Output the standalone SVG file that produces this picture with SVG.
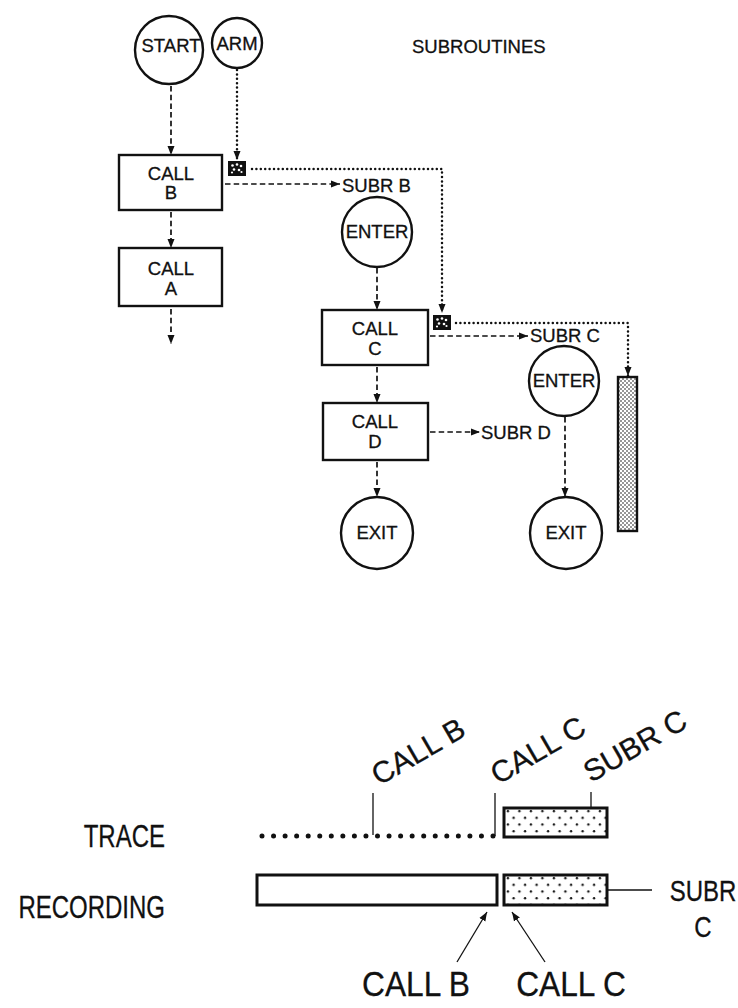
<svg xmlns="http://www.w3.org/2000/svg" width="738" height="1008" viewBox="0 0 738 1008">
<style>
text{font-family:"Liberation Sans",Arial,sans-serif;fill:#111;stroke:#111;stroke-width:0.3}
.t{font-size:18.5px;text-anchor:middle}
.tl{font-size:18.5px}
.node{fill:#fff;stroke:#111;stroke-width:2.4}
.dash{fill:none;stroke:#111;stroke-width:1.7;stroke-dasharray:5.5 3.2}
.dot{fill:none;stroke:#111;stroke-width:2.5;stroke-linecap:round;stroke-dasharray:0 4.4}
.big{font-size:30px}
.cond{font-size:32px}
.sub{font-size:30px}
.bot{font-size:36px}
.thin{stroke:#111;stroke-width:1.3;fill:none}
</style>
<defs>
<marker id="ah" markerWidth="10" markerHeight="8" refX="9" refY="4" orient="auto" markerUnits="userSpaceOnUse">
<path d="M0,0.5 L9,4 L0,7.5 Z" fill="#111"/>
</marker>
<pattern id="fine" width="4" height="4" patternUnits="userSpaceOnUse">
<rect width="4" height="4" fill="#fff"/>
<circle cx="1" cy="1" r="0.8" fill="#111"/>
<circle cx="3" cy="3" r="0.8" fill="#111"/>
</pattern>
<pattern id="sparse" width="11.5" height="13.4" patternUnits="userSpaceOnUse" x="505" y="808">
<rect width="11.5" height="13.4" fill="#fff"/>
<circle cx="2.9" cy="3" r="1.2" fill="#111"/>
<circle cx="8.6" cy="9.7" r="1.2" fill="#111"/>
</pattern>
<g id="chk">
<rect x="0.5" y="0.5" width="17" height="14" fill="#111" stroke="#111" stroke-width="1"/>
<circle cx="4.5" cy="4.5" r="1.3" fill="#fff"/>
<circle cx="9" cy="3.5" r="1.3" fill="#fff"/>
<circle cx="13" cy="5" r="1.3" fill="#fff"/>
<circle cx="6" cy="8.5" r="1.3" fill="#fff"/>
<circle cx="11" cy="9" r="1.3" fill="#fff"/>
<circle cx="4" cy="11.5" r="1.1" fill="#fff"/>
<circle cx="13.5" cy="11" r="1.1" fill="#fff"/>
</g>
</defs>
<rect width="738" height="1008" fill="#fff"/>

<g id="start"><circle class="node" cx="169" cy="50" r="34"/><text class="t" x="171" y="52">START</text></g>
<g id="arm"><circle class="node" cx="237" cy="43" r="25"/><text class="t" x="237" y="50">ARM</text></g>
<g id="subroutines"><text class="tl" x="412" y="53">SUBROUTINES</text></g>

<g id="callB"><rect class="node" x="119" y="155" width="103" height="55"/><text class="t" x="171" y="180">CALL</text><text class="t" x="171" y="199">B</text></g>
<g id="callA"><rect class="node" x="119" y="248" width="103" height="58"/><text class="t" x="171" y="275">CALL</text><text class="t" x="171" y="295">A</text></g>
<g id="sq1"><use href="#chk" x="228" y="161"/></g>
<g id="subrB"><text class="tl" x="342" y="192">SUBR B</text></g>
<g id="enterB"><circle class="node" cx="377" cy="232" r="35"/><text class="t" x="377" y="238">ENTER</text></g>
<g id="callC"><rect class="node" x="322" y="310" width="106" height="55"/><text class="t" x="375" y="335">CALL</text><text class="t" x="375" y="355">C</text></g>
<g id="sq2"><use href="#chk" x="433" y="315"/></g>
<g id="subrC"><text class="tl" x="530" y="342">SUBR C</text></g>
<g id="callD"><rect class="node" x="323" y="403" width="105" height="57"/><text class="t" x="375" y="428">CALL</text><text class="t" x="375" y="448">D</text></g>
<g id="subrD"><text class="tl" x="481" y="439">SUBR D</text></g>
<g id="exitB"><circle class="node" cx="377" cy="533" r="36"/><text class="t" x="377" y="539">EXIT</text></g>
<g id="enterC"><circle class="node" cx="564" cy="381" r="35"/><text class="t" x="564" y="387">ENTER</text></g>
<g id="exitC"><circle class="node" cx="566" cy="533" r="36"/><text class="t" x="566" y="539">EXIT</text></g>
<g id="bar"><rect x="618" y="377" width="19" height="154" fill="url(#fine)" stroke="#111" stroke-width="2.4"/></g>

<g id="connectors">
<line class="dash" x1="171" y1="86" x2="171" y2="155" marker-end="url(#ah)"/>
<line class="dot" x1="237" y1="70" x2="237" y2="160" marker-end="url(#ah)"/>
<line class="dash" x1="171" y1="212" x2="171" y2="248" marker-end="url(#ah)"/>
<line class="dash" x1="171" y1="309" x2="171" y2="344" marker-end="url(#ah)"/>
<line class="dash" x1="225" y1="184" x2="340" y2="184" marker-end="url(#ah)"/>
<polyline class="dot" points="252,169 442,169 442,313" marker-end="url(#ah)"/>
<line class="dash" x1="377" y1="268" x2="377" y2="310" marker-end="url(#ah)"/>
<line class="dash" x1="430" y1="336" x2="528" y2="336" marker-end="url(#ah)"/>
<polyline class="dot" points="456,323 628,323 628,376" marker-end="url(#ah)"/>
<line class="dash" x1="377" y1="367" x2="377" y2="403" marker-end="url(#ah)"/>
<line class="dash" x1="430" y1="432" x2="480" y2="432" marker-end="url(#ah)"/>
<line class="dash" x1="377" y1="462" x2="377" y2="497" marker-end="url(#ah)"/>
<line class="dash" x1="565" y1="417" x2="565" y2="497" marker-end="url(#ah)"/>
</g>

<g id="timeline">
<text class="big" transform="translate(379,786) rotate(-30)">CALL B</text>
<text class="big" transform="translate(498,785) rotate(-30)">CALL C</text>
<text class="big" transform="translate(591,783) rotate(-30)">SUBR C</text>
<line class="thin" x1="373" y1="793" x2="373" y2="835"/>
<line class="thin" x1="495" y1="793" x2="495" y2="836"/>
<line class="thin" x1="591" y1="792" x2="591" y2="817"/>
<line x1="262" y1="836" x2="494" y2="836" stroke="#111" stroke-width="5" stroke-linecap="round" stroke-dasharray="0 11.55"/>
<rect x="504" y="808" width="103" height="29" fill="url(#sparse)" stroke="#111" stroke-width="3"/>
<text class="cond" transform="translate(165,847) scale(0.75,1)" text-anchor="end">TRACE</text>
<text class="cond" transform="translate(165,918) scale(0.75,1)" text-anchor="end">RECORDING</text>
<rect x="257" y="875" width="240" height="30" fill="#fff" stroke="#111" stroke-width="3"/>
<rect x="504" y="875" width="103" height="30" fill="url(#sparse)" stroke="#111" stroke-width="3"/>
<line class="thin" x1="607" y1="890" x2="652" y2="890"/>
<text class="sub" transform="translate(703,901) scale(0.8,1)" text-anchor="middle">SUBR</text>
<text class="sub" transform="translate(703,937) scale(0.8,1)" text-anchor="middle">C</text>
<line class="thin" x1="457" y1="962" x2="487" y2="912" marker-end="url(#ah)"/>
<line class="thin" x1="545" y1="962" x2="512" y2="912" marker-end="url(#ah)"/>
<text class="bot" transform="translate(416,996) scale(0.88,1)" text-anchor="middle">CALL B</text>
<text class="bot" transform="translate(571,996) scale(0.88,1)" text-anchor="middle">CALL C</text>
</g>
</svg>
